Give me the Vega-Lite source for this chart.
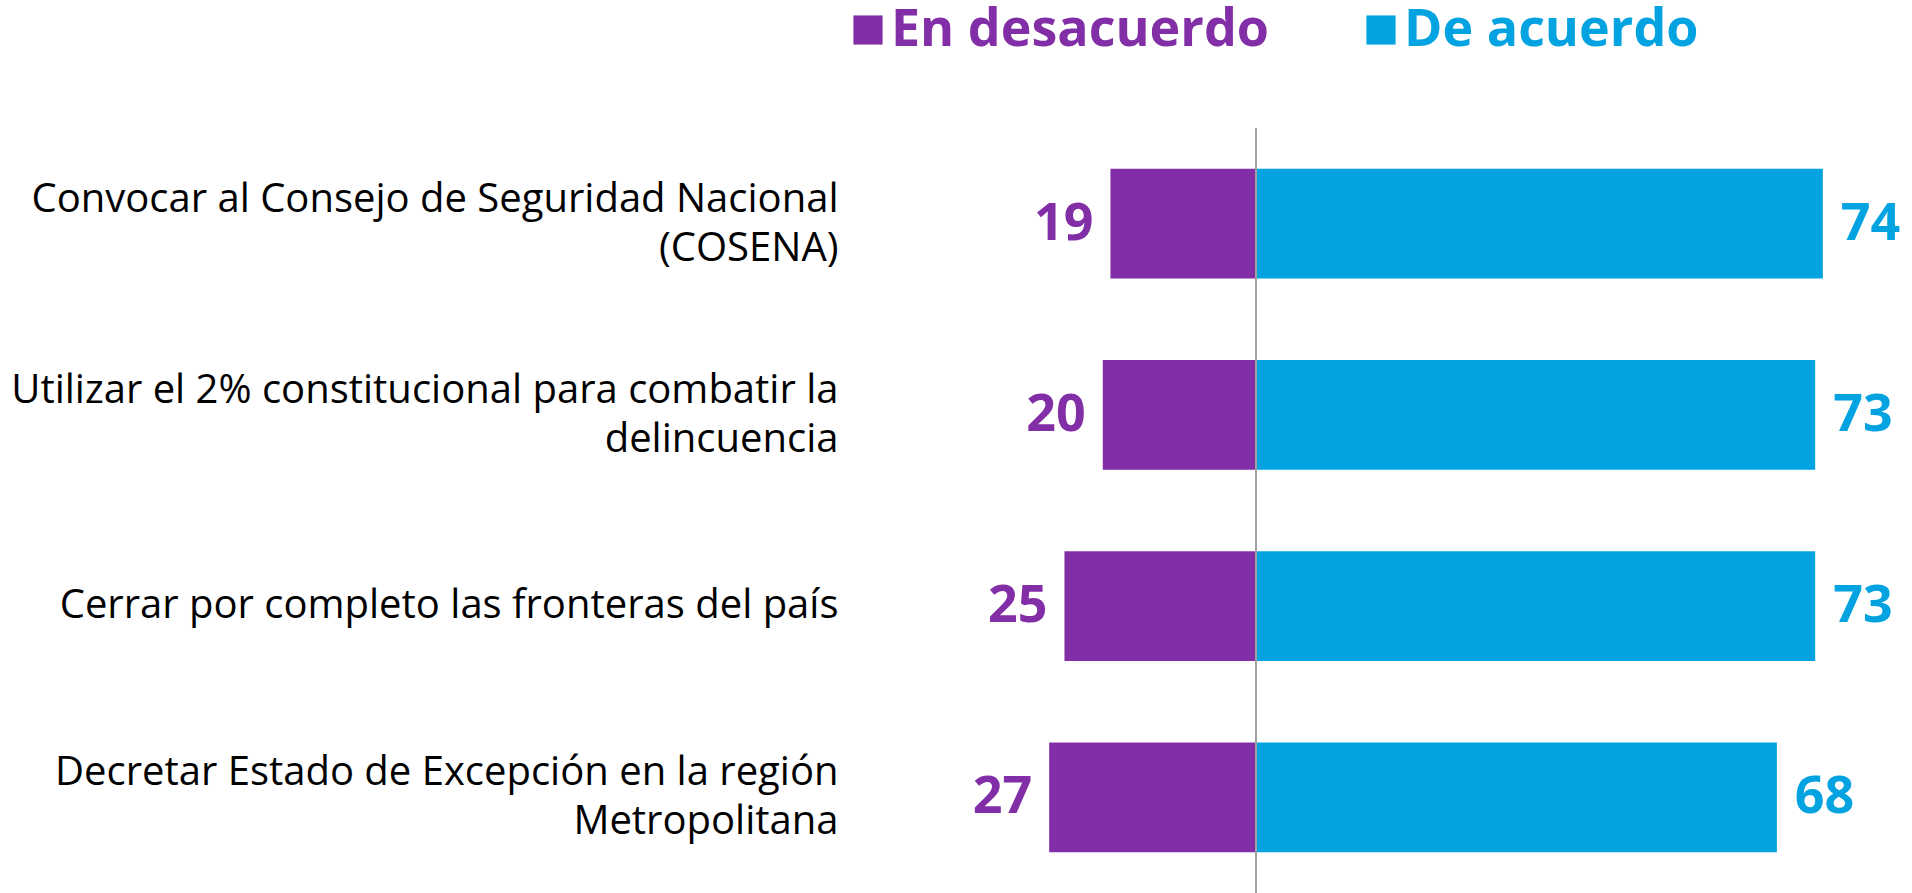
{
  "$schema": "https://vega.github.io/schema/vega-lite/v6.json",
  "width": 956,
  "height": 765,
  "autosize": {"type": "none"},
  "padding": {"left": 956, "top": 128, "right": 0, "bottom": 0},
  "background": "white",
  "config": {"view": {"stroke": null}, "font": "Open Sans"},
  "data": {
    "values": [
      {"item": "Convocar al Consejo de Seguridad Nacional\n(COSENA)", "grupo": "En desacuerdo", "valor": 19, "pos": -19},
      {"item": "Convocar al Consejo de Seguridad Nacional\n(COSENA)", "grupo": "De acuerdo", "valor": 74, "pos": 74},
      {"item": "Utilizar el 2% constitucional para combatir la\ndelincuencia", "grupo": "En desacuerdo", "valor": 20, "pos": -20},
      {"item": "Utilizar el 2% constitucional para combatir la\ndelincuencia", "grupo": "De acuerdo", "valor": 73, "pos": 73},
      {"item": "Cerrar por completo las fronteras del país", "grupo": "En desacuerdo", "valor": 25, "pos": -25},
      {"item": "Cerrar por completo las fronteras del país", "grupo": "De acuerdo", "valor": 73, "pos": 73},
      {"item": "Decretar Estado de Excepción en la región\nMetropolitana", "grupo": "En desacuerdo", "valor": 27, "pos": -27},
      {"item": "Decretar Estado de Excepción en la región\nMetropolitana", "grupo": "De acuerdo", "valor": 68, "pos": 68}
    ]
  },
  "layer": [
    {
      "mark": {"type": "bar"},
      "encoding": {
        "y": {
          "field": "item",
          "type": "nominal",
          "sort": null,
          "scale": {"paddingInner": 0.425, "paddingOuter": 0.2125},
          "axis": {
            "title": null,
            "domain": false,
            "ticks": false,
            "labelExpr": "split(datum.label, '\\n')",
            "labelPadding": 118,
            "labelFontSize": 40,
            "labelColor": "#000000",
            "labelLineHeight": 49,
            "labelAlign": "right",
            "labelBaseline": "middle",
            "labelOffset": {"condition": {"test": "indexof(datum.value, '\\n') >= 0", "value": -24}, "value": 0},
            "labelLimit": 1200
          }
        },
        "x": {"field": "pos", "type": "quantitative", "scale": {"domain": [-39.16, 85.64], "nice": false, "zero": false}, "axis": null},
        "x2": {"datum": 0},
        "color": {
          "field": "grupo",
          "type": "nominal",
          "scale": {"domain": ["En desacuerdo", "De acuerdo"], "range": ["#822EA6", "#03A2E0"]},
          "legend": {
            "title": null,
            "orient": "none",
            "legendX": -114,
            "legendY": -124,
            "direction": "horizontal",
            "symbolType": "square",
            "symbolSize": 850,
            "symbolStrokeWidth": 0,
            "labelFontSize": 52,
            "labelFontWeight": "bold",
            "labelColor": {"expr": "datum.label === 'En desacuerdo' ? '#822EA6' : '#03A2E0'"},
            "labelOffset": -3,
            "columnPadding": 85,
            "labelLimit": 1000,
            "padding": 0
          }
        }
      }
    },
    {
      "mark": {"type": "rule", "color": "#A0A0A0", "strokeWidth": 1.3},
      "encoding": {"x": {"datum": 0}}
    },
    {
      "transform": [{"filter": "datum.grupo === 'En desacuerdo'"}],
      "mark": {"type": "text", "align": "right", "baseline": "middle", "dx": -17, "fontSize": 52, "fontWeight": "bold"},
      "encoding": {
        "y": {"field": "item", "type": "nominal", "sort": null},
        "x": {"field": "pos", "type": "quantitative"},
        "text": {"field": "valor", "type": "quantitative"},
        "color": {"field": "grupo", "type": "nominal", "legend": null}
      }
    },
    {
      "transform": [{"filter": "datum.grupo === 'De acuerdo'"}],
      "mark": {"type": "text", "align": "left", "baseline": "middle", "dx": 18, "fontSize": 52, "fontWeight": "bold"},
      "encoding": {
        "y": {"field": "item", "type": "nominal", "sort": null},
        "x": {"field": "pos", "type": "quantitative"},
        "text": {"field": "valor", "type": "quantitative"},
        "color": {"field": "grupo", "type": "nominal", "legend": null}
      }
    }
  ]
}
